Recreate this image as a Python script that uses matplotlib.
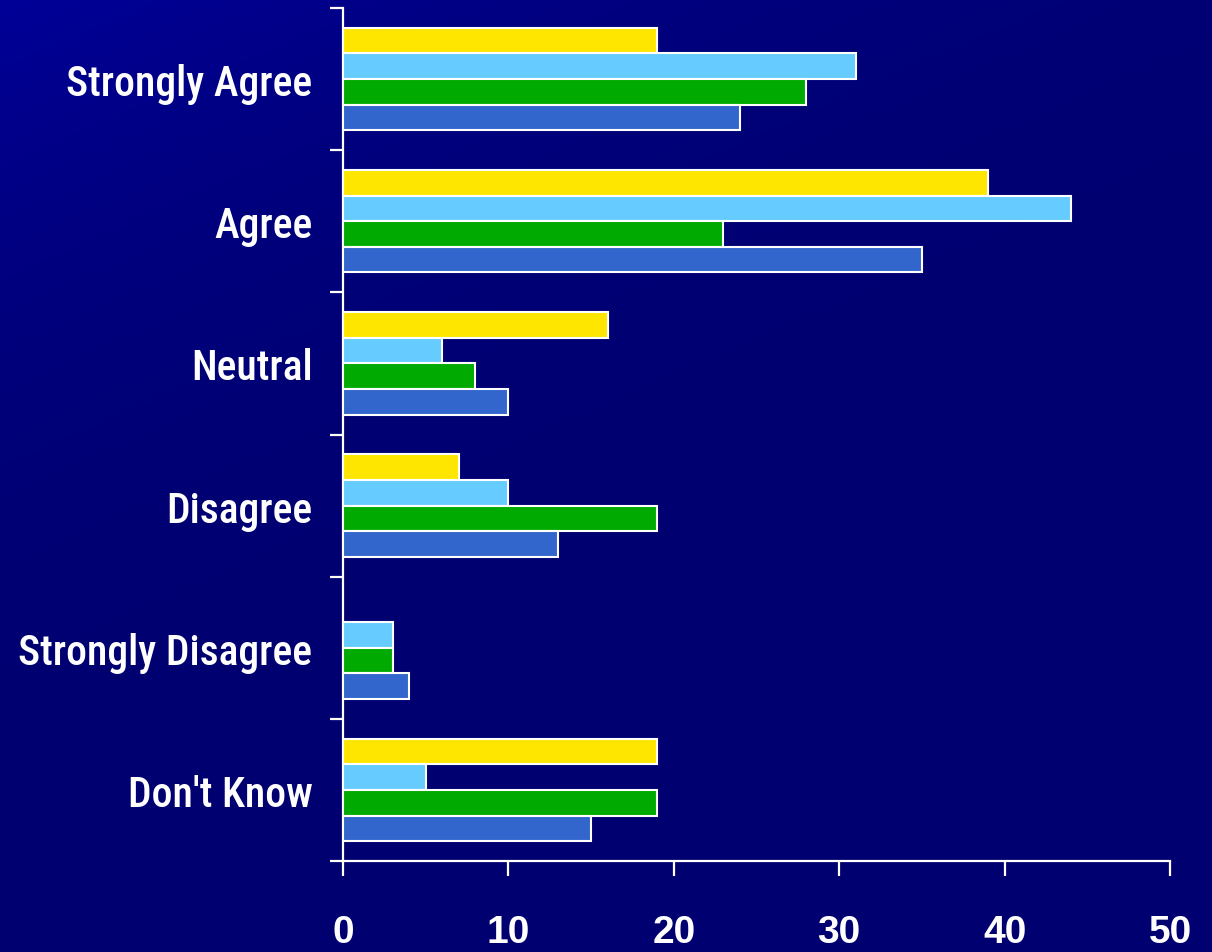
import numpy as np
import matplotlib
matplotlib.use("Agg")
import matplotlib.pyplot as plt
from matplotlib import font_manager as fm
from matplotlib.textpath import TextPath

# categories top to bottom
categories = ["Strongly Agree", "Agree", "Neutral", "Disagree",
              "Strongly Disagree", "Don't Know"]
# four series, drawn top to bottom inside each group
yellow_vals = [19, 39, 16, 7, 0, 19]
lightblue_vals = [31, 44, 6, 10, 3, 5]
green_vals = [28, 23, 8, 19, 3, 19]
blue_vals = [24, 35, 10, 13, 4, 15]
xticks = [0, 10, 20, 30, 40, 50]

series = [yellow_vals, lightblue_vals, green_vals, blue_vals]
colors = ["#FFE600", "#66CCFF", "#00AA00", "#3366CC"]

files = fm.findSystemFonts()


def find_font(names, fallback_family, weight):
    for name in names:
        for f in files:
            if f.lower().endswith(name.lower()):
                return fm.FontProperties(fname=f)
    return fm.FontProperties(family=fallback_family, weight=weight)


# a condensed face for the category labels, if one is installed
ylab_font = find_font(["LiberationSansNarrow-Bold.ttf", "RobotoCondensed-Medium.ttf",
                       "RobotoCondensed-Bold.ttf", "DejaVuSansCondensed-Bold.ttf",
                       "OpenSans-CondBold.ttf", "Roboto-Medium.ttf"],
                      "Liberation Sans", "bold")
xlab_font = find_font(["LiberationSans-Bold.ttf"], "DejaVu Sans", "bold")

# fit the longest label into the space left of the axis (about 295 px)
size = 30
w = TextPath((0, 0), "Strongly Disagree", size=size * 100 / 72,
             prop=ylab_font).get_extents().width
size = min(size, size * 295 / w)
ylab_font.set_size(size)
xlab_font.set_size(28)

fig = plt.figure(figsize=(12.12, 9.53), dpi=100)

# background gradient, lighter blue top-left to navy
bg = fig.add_axes([0, 0, 1, 1])
gx, gy = np.meshgrid(np.linspace(0, 1, 200), np.linspace(0, 1, 200))
g = np.clip(1 - (gx * 0.5 + gy * 0.9), 0, 1) ** 3
img = np.zeros((200, 200, 3))
img[..., 2] = (112 + 40 * g) / 255
bg.imshow(img, aspect="auto", extent=[0, 1, 0, 1], origin="upper")
bg.axis("off")

ax = fig.add_axes([343 / 1212, 1 - 862 / 953, (1170 - 343) / 1212, (862 - 9) / 953])
ax.patch.set_alpha(0)

y = np.arange(len(categories))
h = 0.18
for i, (vals, c) in enumerate(zip(series, colors)):
    offs = (i - 1.5) * h
    v = np.array(vals, dtype=float)
    mask = v > 0
    ax.barh(y[mask] + offs, v[mask], height=h, color=c,
            edgecolor="white", linewidth=1.5, zorder=3)

ax.set_xlim(0, 50)
ax.set_ylim(len(categories) - 0.5, -0.5)

for s in ["top", "right"]:
    ax.spines[s].set_visible(False)
for s in ["left", "bottom"]:
    ax.spines[s].set_color("white")
    ax.spines[s].set_linewidth(1.6)

ax.set_xticks(xticks)
ax.set_xticklabels([str(t) for t in xticks], color="white", fontproperties=xlab_font)
ax.tick_params(axis="x", colors="white", length=11, width=1.6, pad=27)

ax.set_yticks(y)
ax.set_yticklabels(categories, color="white", fontproperties=ylab_font)
ax.tick_params(axis="y", which="major", length=0, pad=22)
ax.set_yticks(np.arange(-0.5, len(categories)), minor=True)
ax.tick_params(axis="y", which="minor", colors="white", length=9.5, width=1.6)

fig.savefig("out.png", dpi=100)
